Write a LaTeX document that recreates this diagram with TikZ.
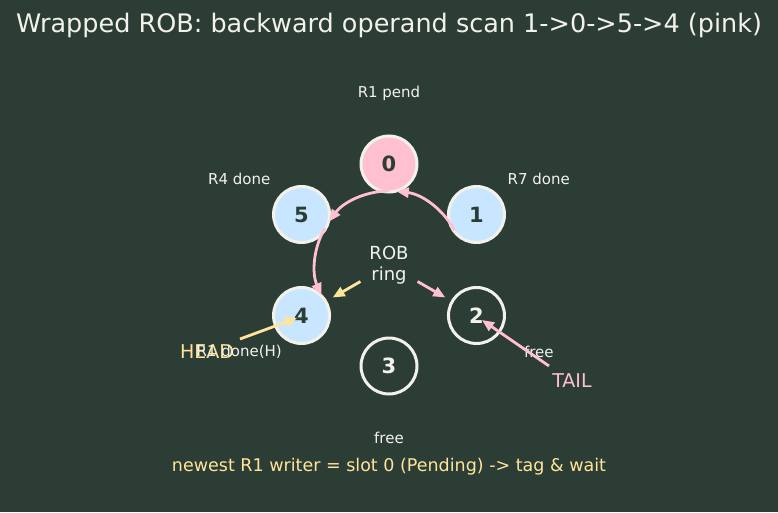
\documentclass[tikz,border=0pt]{standalone}
\usepackage{fontspec}
\setmainfont{DejaVu Sans}
\usetikzlibrary{arrows.meta}
\definecolor{bg}{HTML}{2C3D35}
\definecolor{pinkc}{HTML}{FFC0CF}
\definecolor{bluec}{HTML}{C8E6FF}
\definecolor{yellowc}{HTML}{FFE49C}
\definecolor{whitec}{HTML}{F2F2EA}
\definecolor{darkc}{HTML}{2C3D35}
\begin{document}
\begin{tikzpicture}[x=1pt,y=1pt,
  slot/.style={circle, draw=whitec, line width=3pt, minimum size=56pt, inner sep=0pt,
    font=\fontsize{21}{24}\selectfont\bfseries},
  filledslot/.style={slot, text=darkc},
  emptyslot/.style={slot, text=whitec},
  small/.style={text=whitec, font=\fontsize{15}{18}\selectfont},
  pinkarrow/.style={draw=pinkc, line width=2.8pt, -{Triangle[length=12pt,width=10pt]}},
  yarrow/.style={draw=yellowc, line width=2.8pt, -{Triangle[length=12pt,width=10pt]}}]
\fill[bg] (0,0) rectangle (778,512);
\useasboundingbox (0,0) rectangle (778,512);
\node[text=whitec, font=\fontsize{25.5}{30}\selectfont] (title) at (389,487) {Wrapped ROB: backward operand scan 1->0->5->4 (pink)};
\coordinate (C) at (389,247);
% slots
\node[filledslot, fill=pinkc] (s0) at ([shift={(90:101pt)}]C) {0};
\node[filledslot, fill=bluec] (s1) at ([shift={(30:101pt)}]C) {1};
\node[emptyslot] (s2) at ([shift={(-30:101pt)}]C) {2};
\node[emptyslot] (s3) at ([shift={(-90:101pt)}]C) {3};
\node[filledslot, fill=bluec] (s4) at ([shift={(210:101pt)}]C) {4};
\node[filledslot, fill=bluec] (s5) at ([shift={(150:101pt)}]C) {5};
% labels
\node[small] (l0) at ([shift={(90:172pt)}]C) {R1 pend};
\node[small] (l1) at ([shift={(30:173pt)}]C) {R7 done};
\node[small] (l2) at ([shift={(-30:173pt)}]C) {free};
\node[small] (l3) at ([shift={(-90:173pt)}]C) {free};
\node[small] (l5) at ([shift={(150:173pt)}]C) {R4 done};
% HEAD text under label
\node[text=yellowc, font=\fontsize{19}{22}\selectfont] (head) at (207,160) {HEAD};
\node[small] (l4) at ([shift={(210:173pt)}]C) {R1 done(H)};
\node[text=pinkc, font=\fontsize{19}{22}\selectfont] (tail) at (572,131) {TAIL};
% center
\node[text=whitec, align=center, font=\fontsize{18}{21}\selectfont] (rob) at (C) {ROB\\ring};
% scan arcs
\draw[pinkarrow] ([shift={(28:74pt)}]C) arc[start angle=28, end angle=84, radius=74pt];
\draw[pinkarrow] ([shift={(90:74pt)}]C) arc[start angle=90, end angle=144, radius=74pt];
\draw[pinkarrow] ([shift={(150:74pt)}]C) arc[start angle=150, end angle=204, radius=74pt];
% center arrows
\coordinate (ya) at ([shift={(210:33pt)}]C);
\coordinate (yb) at ([shift={(210:65pt)}]C);
\coordinate (pa) at ([shift={(-30:33pt)}]C);
\coordinate (pb) at ([shift={(-30:65pt)}]C);
\draw[yarrow] (ya) -- (yb);
\draw[pinkarrow] (pa) -- (pb);
% head / tail pointers
\coordinate (hs) at (240,173);
\coordinate (ht) at (297,194);
\coordinate (ts) at (549,146);
\coordinate (tt) at (482,192);
\draw[yarrow] (hs) -- (ht);
\draw[pinkarrow] (ts) -- (tt);
\node[text=yellowc, font=\fontsize{17.5}{21}\selectfont] (note) at (389,45) {newest R1 writer = slot 0 (Pending) -> tag \& wait};
\end{tikzpicture}
\end{document}
